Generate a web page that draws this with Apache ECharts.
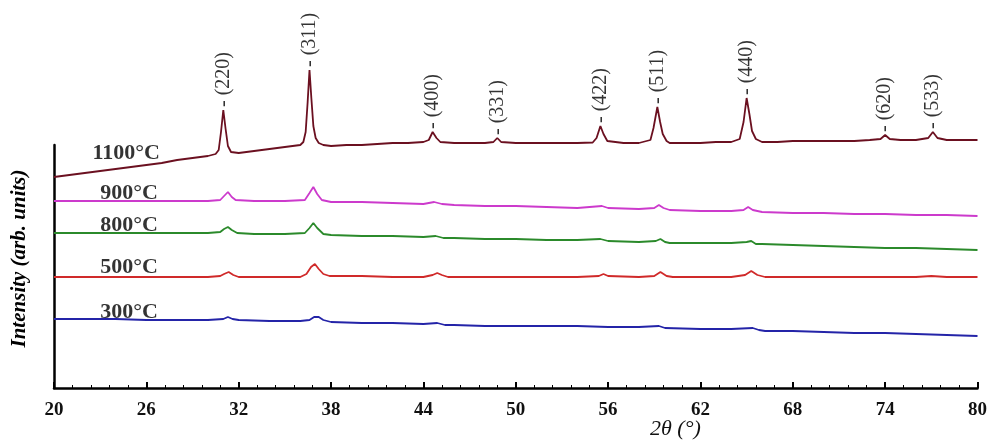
<!DOCTYPE html>
<html>
<head>
<meta charset="utf-8">
<script src="https://cdn.jsdelivr.net/npm/echarts@6/dist/echarts.min.js"></script>
<style>html,body{margin:0;padding:0;background:#fff;}#c{width:990px;height:441px;}</style>
</head>
<body>
<div id="c"></div>
<script>
// ---- data (2θ in degrees, intensity in arbitrary units) ----
const xTicks = [20, 26, 32, 38, 44, 50, 56, 62, 68, 74, 80];
const seriesNames = ['1100°C', '900°C', '800°C', '500°C', '300°C'];

const s1100 = [[20,211],[21,213],[22,215],[23,217],[24,219],[25,221],[26,223],[27,225],[28,228],[29,230],[30,232],[30.5,234],[30.7,238],[30.85,256],[31.0,278],[31.15,259],[31.3,242],[31.5,236],[32,235],[33,237],[34,239],[35,241],[36,243],[36.2,246],[36.35,256],[36.48,286],[36.6,318],[36.72,290],[36.85,262],[37.0,250],[37.2,245],[37.5,243],[38,242],[39,243],[40,243],[41,244],[42,245],[43,245],[44,246],[44.35,248],[44.6,256],[44.85,250],[45.1,246],[46,245],[47,245],[48,245],[48.55,246],[48.8,250],[49.05,246],[50,245],[51,245],[52,245],[53,245],[54,245],[55,245.5],[55.25,250],[55.5,262],[55.7,254],[55.95,247],[57,245],[58,245],[58.75,248],[58.95,260],[59.2,281],[59.38,266],[59.55,254],[59.8,247],[60,245],[61,245],[62,245],[63,246],[64,246],[64.55,249],[64.8,266],[65.0,290],[65.18,274],[65.35,257],[65.6,249],[66,246],[67,246],[68,247],[69,247],[70,247],[71,247],[72,247],[73,248],[73.7,249],[74.0,253],[74.3,249],[75,248],[76,248],[76.8,250],[77.1,256],[77.4,250],[78,248],[79,248],[80,248]];
const s900 = [[20,187],[22,187],[24,187],[26,187],[28,187],[30,187],[30.8,188],[31.05,192],[31.3,196],[31.55,191],[31.8,188],[33,187],[35,187],[36.3,188],[36.6,195],[36.85,201],[37.1,194],[37.4,188],[38,186],[40,186],[42,185],[44,184],[44.7,186],[45.2,184],[46,183],[48,182],[50,182],[52,181],[54,180],[55.6,182],[56,180],[58,179],[59.0,180],[59.3,183],[59.6,180],[60,178],[62,177],[64,177],[64.8,178],[65.1,181],[65.4,178],[66,176],[68,175],[70,175],[72,174],[74,174],[76,173],[78,173],[80,172]];
const s800 = [[20,155],[22,155],[24,155],[26,155],[28,155],[30,155],[30.8,156],[31.05,159],[31.3,161],[31.55,158],[31.9,155],[33,154],[35,154],[36.3,155],[36.6,160],[36.85,165],[37.1,160],[37.5,154],[38,153],[40,152],[42,152],[44,151],[44.8,152],[45.3,150],[46,150],[48,149],[50,149],[52,148],[54,148],[55.5,149],[56,147],[58,146],[59.1,147],[59.4,149],[59.7,146],[60,145],[62,145],[64,145],[65.0,146],[65.3,147],[65.6,144],[66,144],[68,143],[70,142],[72,141],[74,140],[76,140],[78,139],[80,138]];
const s500 = [[20,111],[22,111],[24,111],[26,111],[28,111],[30,111],[30.8,112],[31.05,114],[31.35,116],[31.65,113],[32,111],[34,111],[36,111],[36.4,114],[36.7,121],[36.95,124],[37.2,119],[37.5,114],[37.9,112],[40,112],[42,111],[44,111],[44.6,113],[44.9,115],[45.2,113],[45.6,111],[48,111],[50,111],[52,111],[54,111],[55.4,112],[55.7,114],[56,112],[58,111],[59.0,112],[59.4,116],[59.8,112],[60.2,111],[62,111],[64,111],[64.9,113],[65.3,117],[65.7,113],[66.2,111],[68,111],[70,111],[72,111],[74,111],[76,111],[77,112],[78,111],[80,111]];
const s300 = [[20,69],[22,69],[24,69],[26,68],[28,68],[30,68],[31.0,69],[31.3,71],[31.6,69],[32,68],[34,67],[36,67],[36.6,68],[36.9,71],[37.2,71],[37.5,68],[38,66],[40,65],[42,65],[44,64],[44.9,65],[45.4,63],[46,63],[48,62],[50,62],[52,62],[54,62],[56,61],[58,61],[59.3,62],[59.7,60],[62,59],[64,59],[65.4,60],[65.8,58],[66.2,57],[68,57],[70,56],[72,55],[74,55],[76,54],[78,53],[80,52]];

const hklLabels = ['(220)', '(311)', '(400)', '(331)', '(422)', '(511)', '(440)', '(620)', '(533)'];
const hklAngles = [31.0, 36.6, 44.6, 48.8, 55.5, 59.2, 65.0, 74.0, 77.1];
const hklTops   = [278, 318, 256, 250, 262, 281, 290, 253, 256];

const tempLabelAngle = [22.5, 23, 23, 23, 23];
const tempLabelValue = [235, 195, 163, 121, 76];

// ---- chart ----
const colors = ['#6b1020', '#cc3acc', '#2b8a2b', '#d02a2a', '#2424a8'];
const allData = [s1100, s900, s800, s500, s300];
const serif = '"Liberation Serif", "DejaVu Serif", serif';

const series = allData.map((d, i) => ({
  name: seriesNames[i],
  type: 'line',
  data: d,
  showSymbol: false,
  symbol: 'none',
  clip: false,
  lineStyle: { color: colors[i], width: 1.8 },
  z: 3
}));

series.push({
  type: 'scatter',
  name: 'hkl',
  symbolSize: 0,
  clip: false,
  silent: true,
  data: hklAngles.map((a, i) => ({ value: [a, hklTops[i]], name: hklLabels[i] })),
  label: {
    show: true,
    position: 'top',
    distance: 3,
    rotate: 90,
    align: 'left',
    verticalAlign: 'middle',
    formatter: p => '- ' + p.name,
    fontFamily: serif,
    fontSize: 20,
    color: '#000'
  }
});

series.push({
  type: 'scatter',
  name: 'temps',
  symbolSize: 0,
  clip: false,
  silent: true,
  data: seriesNames.map((n, i) => ({ value: [tempLabelAngle[i], tempLabelValue[i]], name: n })),
  label: {
    show: true,
    position: 'right',
    distance: 0,
    formatter: p => p.name,
    fontFamily: serif,
    fontWeight: 'bold',
    fontSize: 22,
    color: '#000'
  }
});

const chart = echarts.init(document.getElementById('c'), null, { renderer: 'canvas' });
chart.setOption({
  animation: false,
  backgroundColor: '#fff',
  grid: { left: 54, right: 11, top: 145, bottom: 53, containLabel: false },
  xAxis: {
    type: 'value',
    min: 20, max: 80, interval: 6,
    axisLine: { lineStyle: { color: '#000', width: 2.5 } },
    axisTick: { inside: true, length: 6, lineStyle: { color: '#000', width: 2 } },
    minorTick: { show: true, splitNumber: 5, length: 3, lineStyle: { color: '#000', width: 1 } },
    splitLine: { show: false },
    axisLabel: {
      margin: 13,
      fontFamily: serif, fontWeight: 'bold', fontSize: 19, color: '#111',
      formatter: v => (xTicks.indexOf(v) >= 0 ? String(v) : '')
    }
  },
  yAxis: {
    type: 'value',
    min: 0, max: 243,
    axisLine: { show: true, lineStyle: { color: '#000', width: 2.5 } },
    axisTick: { show: false },
    axisLabel: { show: false },
    splitLine: { show: false },
    name: 'Intensity (arb. units)',
    nameLocation: 'middle',
    nameGap: 24,
    nameRotate: 90,
    nameTextStyle: { fontFamily: serif, fontWeight: 'bold', fontStyle: 'italic', fontSize: 21, color: '#000', padding: [0, 0, 0, 16] }
  },
  graphic: [{
    type: 'text',
    left: 650,
    top: 418,
    style: { text: '2θ (°)', font: 'italic 22px "Liberation Serif", serif', fill: '#111' }
  }],
  series: series
});
</script>
</body>
</html>
